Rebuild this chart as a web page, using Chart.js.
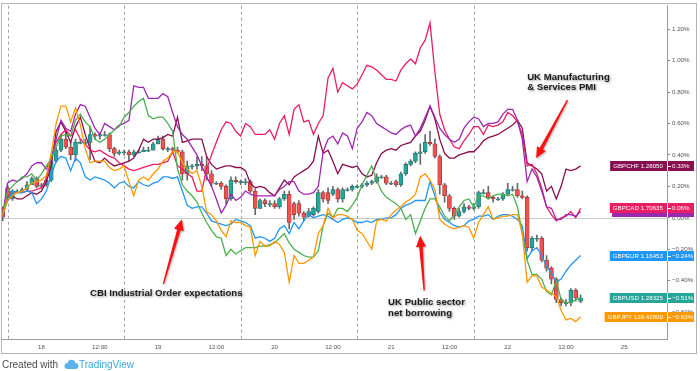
<!DOCTYPE html>
<html><head><meta charset="utf-8">
<script src="https://cdn.jsdelivr.net/npm/chart.js@4/dist/chart.umd.min.js"></script>
<style>html,body{margin:0;padding:0;background:#fff;}#wrap{width:700px;height:371px;position:relative;}</style>
</head><body><div id="wrap"><canvas id="c" width="700" height="371"></canvas></div>
<script>
// hourly bars, hour 0 = 18th 00:00
const hours = Array.from({length:120}, (_, i) => i - 8);
const xTickHours = [0,12,24,36,48,60,72,84,96,108,120];
const xTickLabels = ["18","12:00","19","12:00","20","12:00","21","12:00","22","12:00","25"];
const yTicks = [-0.6,-0.4,-0.2,0,0.2,0.4,0.6,0.8,1.0,1.2];
const sessionBreaks = [-7,17,41,65,89];

const gbpchf = [0.02,0.11,0.14,0.12,0.12,0.14,0.16,0.15,0.17,0.23,
 0.33,0.55,0.61,0.55,0.48,0.58,0.64,0.53,0.44,0.36,
 0.35,0.38,0.35,0.33,0.34,0.35,0.36,0.38,0.43,0.50,
 0.48,0.50,0.50,0.51,0.53,0.52,0.64,0.48,0.49,0.50,
 0.50,0.50,0.39,0.34,0.31,0.32,0.33,0.33,0.32,0.32,
 0.30,0.22,0.19,0.20,0.19,0.16,0.14,0.19,0.24,0.21,
 0.26,0.28,0.30,0.32,0.36,0.52,0.41,0.43,0.36,0.28,
 0.34,0.33,0.32,0.33,0.28,0.26,0.27,0.35,0.41,0.43,
 0.44,0.43,0.46,0.47,0.48,0.52,0.55,0.62,0.71,0.63,
 0.50,0.41,0.38,0.38,0.40,0.41,0.42,0.42,0.45,0.49,
 0.51,0.52,0.53,0.55,0.57,0.59,0.62,0.57,0.35,0.33,
 0.31,0.28,0.17,0.20,0.12,0.20,0.31,0.30,0.31,0.33];
const gbpcad = [0.02,0.13,0.17,0.16,0.16,0.17,0.17,0.18,0.19,0.25,
 0.38,0.48,0.53,0.56,0.52,0.56,0.50,0.47,0.43,0.42,
 0.43,0.41,0.39,0.38,0.35,0.33,0.31,0.30,0.31,0.32,
 0.33,0.34,0.34,0.35,0.36,0.42,0.33,0.31,0.28,0.26,
 0.17,0.17,0.31,0.40,0.48,0.56,0.61,0.60,0.55,0.52,
 0.60,0.58,0.53,0.53,0.53,0.56,0.50,0.60,0.65,0.53,
 0.69,0.72,0.61,0.62,0.53,0.60,0.65,0.89,0.95,0.80,
 0.86,0.84,0.82,0.85,0.91,0.97,0.96,0.94,0.91,0.88,
 0.88,0.87,0.94,0.98,1.01,0.98,1.08,1.13,1.24,0.93,
 0.66,0.56,0.50,0.45,0.44,0.49,0.53,0.58,0.58,0.53,
 0.59,0.58,0.59,0.61,0.67,0.65,0.61,0.53,0.33,0.34,
 0.28,0.19,0.07,0.02,-0.02,0.00,0.01,0.04,0.00,0.06];
const gbpaud = [0.02,0.22,0.24,0.23,0.25,0.28,0.33,0.35,0.35,0.31,
 0.38,0.50,0.62,0.57,0.55,0.66,0.72,0.71,0.64,0.57,
 0.53,0.60,0.58,0.56,0.59,0.60,0.62,0.84,0.83,0.83,
 0.76,0.76,0.76,0.79,0.77,0.67,0.58,0.53,0.50,0.45,
 0.40,0.33,0.26,0.20,0.12,0.03,0.08,0.15,0.11,0.13,
 0.17,0.15,0.14,0.14,0.14,0.14,0.14,0.18,0.20,0.23,
 0.23,0.17,0.15,0.15,0.16,0.20,0.42,0.50,0.52,0.47,
 0.54,0.52,0.44,0.57,0.61,0.67,0.65,0.60,0.58,0.56,
 0.54,0.53,0.56,0.58,0.59,0.52,0.57,0.64,0.71,0.64,
 0.57,0.53,0.50,0.48,0.50,0.57,0.61,0.64,0.63,0.58,
 0.60,0.60,0.61,0.66,0.69,0.69,0.62,0.50,0.23,0.31,
 0.26,0.17,0.07,0.06,-0.01,-0.01,0.02,0.02,0.01,0.04];
const gbpeur = [0.02,0.11,0.17,0.16,0.16,0.17,0.16,0.09,0.12,0.17,
 0.27,0.36,0.39,0.38,0.30,0.38,0.35,0.26,0.24,0.26,
 0.25,0.24,0.22,0.19,0.22,0.23,0.20,0.19,0.23,0.21,
 0.20,0.22,0.23,0.26,0.26,0.25,0.26,0.17,0.08,0.06,
 0.07,0.07,0.03,-0.02,-0.03,-0.04,-0.05,-0.04,-0.01,-0.02,
 -0.03,-0.05,-0.13,-0.12,-0.13,-0.15,-0.13,-0.07,-0.05,-0.10,
 -0.03,-0.07,-0.02,0.02,0.00,0.01,0.02,0.01,-0.01,-0.03,
 -0.01,0.00,-0.01,-0.03,-0.03,-0.02,-0.03,-0.01,-0.01,0.00,
 0.00,0.02,0.06,0.08,0.09,0.11,0.11,0.11,0.23,0.14,
 0.04,-0.01,-0.03,-0.05,-0.06,-0.05,-0.02,-0.01,0.01,0.01,
 0.02,-0.01,0.01,0.02,0.02,0.01,-0.01,-0.05,-0.26,-0.21,
 -0.19,-0.24,-0.31,-0.35,-0.41,-0.39,-0.34,-0.30,-0.27,-0.24];
const gbpnzd = [0.02,0.17,0.20,0.23,0.26,0.26,0.28,0.24,0.28,0.33,
 0.38,0.45,0.52,0.53,0.52,0.62,0.66,0.61,0.58,0.50,
 0.48,0.50,0.53,0.56,0.58,0.64,0.67,0.71,0.74,0.76,
 0.65,0.63,0.64,0.64,0.60,0.55,0.31,0.21,0.17,0.14,
 0.10,0.03,-0.03,-0.08,-0.12,-0.13,-0.24,-0.20,-0.23,-0.21,
 -0.19,-0.19,-0.19,-0.18,-0.18,-0.17,-0.16,-0.13,-0.10,-0.16,
 -0.20,-0.22,-0.24,-0.25,-0.25,-0.21,-0.05,0.03,0.00,0.06,
 0.06,0.04,0.08,0.13,0.21,0.27,0.33,0.24,0.17,0.13,
 0.11,0.09,0.06,-0.01,0.02,-0.10,-0.02,0.06,0.12,0.12,
 0.07,0.01,-0.02,0.02,0.07,0.11,0.12,0.07,0.14,0.14,
 0.12,0.14,0.15,0.15,0.14,0.15,0.07,-0.10,-0.27,-0.36,
 -0.36,-0.39,-0.47,-0.49,-0.40,-0.52,-0.54,-0.54,-0.52,-0.51];
const gbpjpy = [0.02,0.11,0.14,0.16,0.17,0.19,0.22,0.23,0.24,0.27,
 0.41,0.60,0.71,0.71,0.61,0.70,0.59,0.44,0.35,0.36,
 0.36,0.36,0.32,0.30,0.31,0.33,0.23,0.14,0.24,0.26,
 0.24,0.28,0.31,0.36,0.38,0.42,0.42,0.35,0.31,0.28,
 0.30,0.20,0.04,0.02,-0.02,-0.08,-0.12,-0.02,-0.03,-0.03,
 -0.05,-0.06,-0.24,-0.15,-0.18,-0.18,-0.15,-0.17,-0.22,-0.41,
 -0.24,-0.29,-0.29,-0.27,-0.25,-0.10,-0.05,0.06,0.00,0.02,
 0.02,0.01,-0.01,-0.08,-0.10,-0.15,-0.20,-0.02,-0.01,-0.02,
 0.02,0.05,0.07,0.10,0.12,0.15,0.26,0.28,0.24,0.18,
 -0.01,-0.04,-0.06,-0.07,-0.06,-0.05,-0.06,-0.13,-0.03,0.02,
 0.07,-0.01,0.00,0.01,0.01,0.02,0.02,-0.10,-0.41,-0.37,
 -0.37,-0.44,-0.46,-0.48,-0.50,-0.59,-0.65,-0.64,-0.66,-0.63];
// GBPUSD candles (percent)
const usdOpen = [0.06,0.19,0.12,0.17,0.17,0.18,0.21,0.25,0.20,0.21,
 0.24,0.36,0.43,0.50,0.45,0.40,0.48,0.48,0.48,0.53,
 0.52,0.53,0.53,0.44,0.41,0.42,0.42,0.40,0.42,0.42,
 0.43,0.43,0.47,0.50,0.44,0.44,0.43,0.42,0.28,0.33,
 0.33,0.34,0.33,0.28,0.22,0.22,0.20,0.12,0.24,0.23,
 0.23,0.23,0.17,0.06,0.11,0.09,0.09,0.07,0.12,0.15,
 0.09,0.09,0.03,0.01,0.02,0.04,0.16,0.16,0.15,0.18,
 0.12,0.18,0.18,0.20,0.20,0.21,0.22,0.23,0.26,0.26,
 0.22,0.23,0.21,0.28,0.34,0.36,0.41,0.42,0.48,0.47,
 0.39,0.21,0.14,0.06,0.01,0.04,0.07,0.06,0.07,0.16,
 0.16,0.13,0.12,0.12,0.15,0.18,0.18,0.14,0.13,-0.19,
 -0.13,-0.13,-0.27,-0.32,-0.39,-0.52,-0.54,-0.54,-0.46,-0.53];
const usdClose = [0.00,0.12,0.17,0.17,0.18,0.21,0.25,0.20,0.21,0.24,
 0.36,0.43,0.50,0.45,0.40,0.48,0.48,0.48,0.53,0.52,
 0.53,0.53,0.44,0.41,0.42,0.42,0.40,0.42,0.42,0.43,
 0.43,0.47,0.50,0.44,0.44,0.43,0.42,0.28,0.33,0.33,
 0.34,0.33,0.28,0.22,0.22,0.20,0.12,0.24,0.23,0.23,
 0.23,0.17,0.06,0.11,0.09,0.09,0.07,0.12,0.15,-0.03,
 0.02,0.03,0.00,0.04,0.06,0.16,0.12,0.11,0.18,0.12,
 0.18,0.18,0.20,0.20,0.21,0.22,0.23,0.26,0.26,0.22,
 0.22,0.21,0.28,0.34,0.36,0.41,0.42,0.48,0.47,0.39,
 0.21,0.14,0.06,0.01,0.04,0.07,0.06,0.07,0.16,0.16,
 0.13,0.12,0.12,0.15,0.18,0.18,0.14,0.13,-0.19,-0.13,
 -0.13,-0.27,-0.32,-0.39,-0.52,-0.54,-0.54,-0.46,-0.51,-0.51];
const usdHigh = [0.07,0.21,0.18,0.18,0.19,0.23,0.26,0.26,0.22,0.26,
 0.37,0.45,0.53,0.55,0.48,0.50,0.50,0.50,0.58,0.54,
 0.54,0.55,0.54,0.45,0.43,0.43,0.43,0.43,0.43,0.45,
 0.45,0.48,0.52,0.52,0.45,0.45,0.45,0.43,0.36,0.34,
 0.39,0.39,0.39,0.30,0.23,0.23,0.21,0.26,0.26,0.24,
 0.25,0.24,0.18,0.12,0.12,0.11,0.11,0.13,0.17,0.17,
 0.10,0.11,0.04,0.06,0.07,0.18,0.17,0.19,0.20,0.19,
 0.19,0.19,0.21,0.21,0.22,0.23,0.24,0.28,0.27,0.27,
 0.23,0.24,0.29,0.35,0.37,0.42,0.47,0.53,0.55,0.50,
 0.40,0.22,0.15,0.07,0.06,0.09,0.08,0.09,0.17,0.18,
 0.20,0.14,0.13,0.16,0.22,0.20,0.22,0.17,0.14,-0.12,
 -0.11,-0.12,-0.24,-0.31,-0.38,-0.51,-0.52,-0.45,-0.45,-0.49];
const usdLow = [-0.02,0.11,0.11,0.16,0.16,0.17,0.21,0.19,0.19,0.20,
 0.23,0.35,0.42,0.44,0.37,0.36,0.47,0.47,0.37,0.50,
 0.50,0.52,0.42,0.39,0.40,0.40,0.36,0.39,0.41,0.42,
 0.42,0.43,0.47,0.43,0.42,0.42,0.41,0.24,0.24,0.31,
 0.31,0.30,0.24,0.20,0.21,0.18,0.09,0.11,0.22,0.21,
 0.21,0.16,0.02,0.06,0.07,0.07,0.06,0.06,0.11,-0.07,
 -0.01,0.01,-0.02,0.00,0.01,0.03,0.10,0.09,0.14,0.10,
 0.10,0.17,0.17,0.19,0.19,0.20,0.21,0.22,0.25,0.21,
 0.21,0.20,0.20,0.27,0.33,0.35,0.34,0.41,0.46,0.38,
 0.15,0.10,0.04,-0.01,0.00,0.03,0.05,0.05,0.06,0.15,
 0.12,0.10,0.11,0.11,0.14,0.17,0.13,0.12,-0.21,-0.21,
 -0.15,-0.28,-0.34,-0.42,-0.54,-0.56,-0.56,-0.56,-0.53,-0.54];

const labelNames = ["GBPCHF 1.28050","GBPCAD 1.70635","GBPEUR 1.16453","GBPUSD 1.28325","GBPJPY 139.42800"];
const labelPct = ["0.33%","0.06%","\u22120.24%","\u22120.51%","\u22120.63%"];

const noteText = [["CBI Industrial Order expectations"],["UK Public sector","net borrowing"],["UK Manufacturing","& Services PMI"]];
const noteAt = [[10.0,-0.481],[71.37,-0.538],[100.0,0.895]];
const arrowFrom = [[25.1,-0.42],[78.8,-0.462],[108.3,0.748]];
const arrowTo = [[28.9,-0.01],[77.96,-0.115],[101.85,0.379]];

const C = {chf:'#880e4f', cad:'#e91e63', aud:'#9c27b0', eur:'#2196f3', nzd:'#4caf50', jpy:'#ff9800', up:'#26a69a', down:'#ef5350'};
const pts = arr => hours.map((h,i)=>({x:h,y:arr[i]}));
const lineDs = (label, arr, color) => ({type:'line', label, data:pts(arr), borderColor:color, backgroundColor:color, borderWidth:1.3, pointRadius:0, tension:0, order:1});

function drawArrow(ctx,x1,y1,x2,y2){
  const dx=x2-x1, dy=y2-y1, len=Math.hypot(dx,dy), ux=dx/len, uy=dy/len, px=-uy, py=ux;
  const hl=11, hw=5, sw=1.8, tw=0.7;
  const bx=x2-ux*hl, by=y2-uy*hl;
  ctx.beginPath();
  ctx.moveTo(x1+px*tw,y1+py*tw);
  ctx.lineTo(bx+px*sw,by+py*sw);
  ctx.lineTo(bx+px*hw,by+py*hw);
  ctx.lineTo(x2,y2);
  ctx.lineTo(bx-px*hw,by-py*hw);
  ctx.lineTo(bx-px*sw,by-py*sw);
  ctx.lineTo(x1-px*tw,y1-py*tw);
  ctx.closePath();
  ctx.fill();
}

const overlay = {
  id:'overlay',
  beforeDatasetsDraw(chart){
    const {ctx, chartArea:a, scales:{x,y}} = chart;
    ctx.save();
    ctx.strokeStyle='#cdcdcd'; ctx.lineWidth=1;
    const y0=Math.round(y.getPixelForValue(0))+0.5;
    ctx.beginPath(); ctx.moveTo(a.left,y0); ctx.lineTo(a.right,y0); ctx.stroke();
    ctx.strokeStyle='#9ea1a8'; ctx.setLineDash([3,3]);
    sessionBreaks.forEach(b=>{
      const px=Math.round(x.getPixelForValue(b))+0.5;
      ctx.beginPath(); ctx.moveTo(px,a.top); ctx.lineTo(px,a.bottom); ctx.stroke();
    });
    ctx.restore();
  },
  afterDatasetsDraw(chart){
    const {ctx, scales:{x,y}} = chart;
    ctx.save();
    ctx.fillStyle='#ff1010';
    ctx.shadowColor='rgba(0,0,0,0.3)'; ctx.shadowBlur=2; ctx.shadowOffsetX=1; ctx.shadowOffsetY=1;
    arrowFrom.forEach((f,i)=>{
      const t=arrowTo[i];
      drawArrow(ctx,x.getPixelForValue(f[0]),y.getPixelForValue(f[1]),x.getPixelForValue(t[0]),y.getPixelForValue(t[1]));
    });
    ctx.font='bold 9.6px "Liberation Sans", Arial, sans-serif';
    ctx.textBaseline='middle'; ctx.textAlign='left';
    ctx.fillStyle='#1c1c1c';
    ctx.shadowColor='rgba(0,0,0,0.45)'; ctx.shadowBlur=2.5; ctx.shadowOffsetX=1; ctx.shadowOffsetY=1;
    noteText.forEach((lines,i)=>{
      const px=x.getPixelForValue(noteAt[i][0]), py=y.getPixelForValue(noteAt[i][1]);
      lines.forEach((s,k)=>ctx.fillText(s,px,py+k*10.5));
    });
    ctx.restore();
  },
  afterDraw(chart){
    const {ctx, chartArea:a, scales:{y}} = chart;
    ctx.save();
    ctx.strokeStyle='#b4b4b4'; ctx.lineWidth=1;
    ctx.strokeRect(1.5,3.5,695,350);
    const last = arr => arr[arr.length-1];
    const boxes = [
      [C.chf,last(gbpchf),labelNames[0],labelPct[0]],
      [C.aud,last(gbpaud),'',''],
      [C.cad,last(gbpcad),labelNames[1],labelPct[1]],
      [C.eur,last(gbpeur),labelNames[2],labelPct[2]],
      [C.up,last(usdClose),labelNames[3],labelPct[3]],
      [C.jpy,last(gbpjpy),labelNames[4],labelPct[4]]
    ];
    ctx.font='6.2px "Liberation Sans", Arial, sans-serif';
    ctx.textBaseline='middle';
    boxes.forEach(([col,val,name,pct])=>{
      const yc=Math.round(y.getPixelForValue(val));
      const w = name ? ctx.measureText(name).width : 48;
      const sep=a.right, left=sep-4-w-3, right=694;
      ctx.fillStyle=col; ctx.fillRect(left,yc-5,right-left,10);
      ctx.fillStyle='#fff';
      ctx.fillRect(sep,yc-5,1,10);
      ctx.fillRect(sep+1,yc,3,1);
      ctx.textAlign='right'; ctx.fillText(name,sep-4,yc+0.5);
      ctx.textAlign='left'; ctx.fillText(pct,sep+5,yc+0.5);
    });
    ctx.textBaseline='middle'; ctx.textAlign='left';
    ctx.font='10px "Liberation Sans", Arial, sans-serif';
    ctx.fillStyle='#4a4a4a';
    ctx.fillText('Created with',2,365);
    ctx.fillStyle='#5ab4e8';
    ctx.beginPath();
    ctx.arc(67.5,366,3,0,Math.PI*2); ctx.arc(71.5,363.5,3.8,0,Math.PI*2); ctx.arc(75.5,366,3,0,Math.PI*2);
    ctx.fill();
    ctx.fillRect(67.5,365,8,4);
    ctx.fillStyle='#3ca6de';
    ctx.fillText('TradingView',79,365);
    ctx.restore();
  }
};

new Chart(document.getElementById('c'), {
  type:'line',
  data:{datasets:[
    lineDs('GBPJPY',gbpjpy,C.jpy),
    lineDs('GBPNZD',gbpnzd,C.nzd),
    lineDs('GBPEUR',gbpeur,C.eur),
    lineDs('GBPAUD',gbpaud,C.aud),
    lineDs('GBPCAD',gbpcad,C.cad),
    lineDs('GBPCHF',gbpchf,C.chf),
    {type:'bar', label:'GBPUSD', data:hours.map((h,i)=>({x:h,y:[usdOpen[i],usdClose[i]]})),
     backgroundColor:c=>usdClose[c.dataIndex]>=usdOpen[c.dataIndex]?C.up:C.down,
     borderColor:c=>usdClose[c.dataIndex]>=usdOpen[c.dataIndex]?'#1d6f67':'#9e2f2d',
     borderWidth:0.7, borderSkipped:false, barThickness:4, minBarLength:1, grouped:false, order:5},
    {type:'bar', label:'GBPUSD range', data:hours.map((h,i)=>({x:h,y:[usdLow[i],usdHigh[i]]})),
     backgroundColor:'#66686e', barThickness:1, grouped:false, order:6}
  ]},
  options:{
    responsive:false, animation:false, devicePixelRatio:1,
    layout:{padding:{left:2,top:3,right:3,bottom:17}},
    plugins:{legend:{display:false}, tooltip:{enabled:false}},
    scales:{
      x:{type:'linear', position:'bottom', min:-8.14, max:128.8, offset:false,
        grid:{display:false, drawTicks:false, tickLength:0}, border:{display:true,color:'#9a9a9a'},
        afterBuildTicks:s=>{s.ticks=xTickHours.map(v=>({value:v}));},
        afterFit:s=>{s.height=15;},
        ticks:{autoSkip:false, maxRotation:0, padding:5, color:'#50535e',
          font:{size:6.2, family:'"Liberation Sans", Arial, sans-serif'},
          callback:v=>xTickLabels[xTickHours.indexOf(v)]}},
      y:{type:'linear', position:'right', min:-0.771, max:1.349,
        grid:{drawOnChartArea:false, drawTicks:true, tickLength:3, color:'#8a8a8a'},
        border:{display:true,color:'#9a9a9a'},
        afterBuildTicks:s=>{s.ticks=yTicks.map(v=>({value:v}));},
        afterFit:s=>{s.width=30;},
        ticks:{autoSkip:false, padding:2, color:'#50535e',
          font:{size:6.2, family:'"Liberation Sans", Arial, sans-serif'},
          callback:v=>(v<-1e-9?'\u2212':'')+Math.abs(v).toFixed(2)+'%'}}
    }
  },
  plugins:[overlay]
});
</script></body></html>
